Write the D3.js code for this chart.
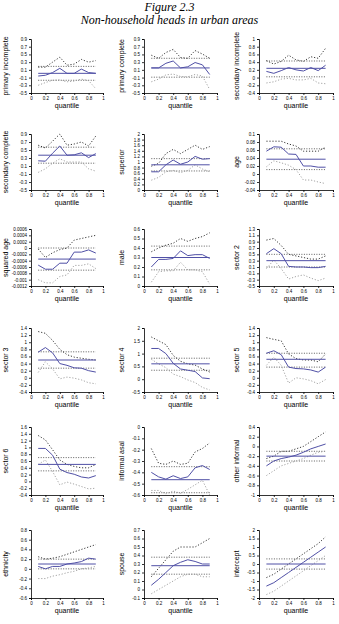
<!DOCTYPE html>
<html><head><meta charset="utf-8">
<script src="https://cdn.jsdelivr.net/npm/d3@7"></script>
<style>
html,body{margin:0;padding:0;background:#fff;}
svg{display:block;}
</style></head>
<body>
<svg id="chart" width="339" height="624"></svg>
<script>
const quantiles = [0.1,0.2,0.3,0.4,0.5,0.6,0.7,0.8,0.9];
const xTicks = [0,0.2,0.4,0.6,0.8,1];
const panelNames = ["primary incomplete","primary complete","secondary incomplete",
  "secondary complete","superior","age",
  "squared age","male","sector 2",
  "sector 3","sector 4","sector 5",
  "sector 6","informal asal","other informal",
  "ethnicity","spouse","intercept"];
const yTicks = [
  [-0.5,-0.3,-0.1,0.1,0.3,0.5,0.7,0.9],
  [-0.5,-0.3,-0.1,0.1,0.3,0.5,0.7,0.9],
  [-0.4,-0.2,0,0.2,0.4,0.6,0.8,1],
  [-0.5,-0.3,-0.1,0.1,0.3,0.5,0.7,0.9],
  [0,0.2,0.4,0.6,0.8,1,1.2,1.4,1.6,1.8,2],
  [-0.04,-0.02,0,0.02,0.04,0.06,0.08,0.1],
  [-0.0012,-0.001,-0.0008,-0.0006,-0.0004,-0.0002,0,0.0002,0.0004,0.0006],
  [0,0.1,0.2,0.3,0.4,0.5,0.6],
  [-0.5,-0.3,-0.1,0.1,0.3,0.5,0.7,0.9,1.1,1.3],
  [-0.4,-0.2,0,0.2,0.4,0.6,0.8,1,1.2,1.4],
  [-0.5,0,0.5,1,1.5,2],
  [-0.4,-0.2,0,0.2,0.4,0.6,0.8,1,1.2,1.4],
  [-0.4,-0.2,0,0.2,0.4,0.6,0.8,1,1.2,1.4,1.6],
  [-0.6,-0.5,-0.4,-0.3,-0.2,-0.1,0],
  [-1,-0.8,-0.6,-0.4,-0.2,0,0.2,0.4],
  [-0.6,-0.4,-0.2,0,0.2,0.4,0.6,0.8],
  [-0.1,0,0.1,0.2,0.3,0.4,0.5,0.6,0.7],
  [-2,-1.5,-1,-0.5,0,0.5,1,1.5,2]
];
const qEst = [
  [-0.06,-0.04,0.03,0.14,0.01,0.01,0.12,0.03,0.01],
  [0.15,0.15,0.27,0.33,0.15,0.18,0.29,0.23,-0.02],
  [0.16,0.11,0.18,0.26,0.2,0.17,0.26,0.18,0.32],
  [0.23,0.22,0.42,0.6,0.37,0.38,0.43,0.31,0.41],
  [0.65,0.65,0.9,1.07,0.92,1.0,1.2,1.1,1.12],
  [0.057,0.068,0.067,0.05,0.049,0.02,0.02,0.017,0.017],
  [-0.00054,-0.00067,-0.00067,-0.00048,-0.00048,-0.00013,-0.00013,-0.00006,-0.00016],
  [0.2,0.28,0.28,0.29,0.37,0.32,0.33,0.33,0.29],
  [0.52,0.68,0.52,0.12,0.1,0.1,0.08,0.08,0.12],
  [0.72,0.85,0.7,0.4,0.35,0.28,0.27,0.2,0.16],
  [1.2,1.2,1.0,0.62,0.4,0.35,0.3,0.05,0.02],
  [0.69,0.76,0.65,0.3,0.26,0.25,0.22,0.16,0.3],
  [0.97,0.97,0.77,0.36,0.26,0.21,0.13,0.1,0.17],
  [-0.4,-0.44,-0.46,-0.43,-0.455,-0.44,-0.36,-0.34,-0.375],
  [-0.4,-0.3,-0.25,-0.22,-0.18,-0.12,-0.05,0.0,0.05],
  [0.05,0.0,0.05,0.05,0.1,0.12,0.15,0.22,0.2],
  [0.05,0.12,0.2,0.28,0.32,0.35,0.33,0.3,0.3],
  [-1.3,-1.1,-0.8,-0.5,-0.2,0.1,0.4,0.7,1.0]
];
const qUpper = [
  [0.17,0.17,0.3,0.43,0.22,0.25,0.37,0.3,0.34],
  [0.48,0.4,0.55,0.63,0.42,0.4,0.6,0.51,0.4],
  [0.44,0.35,0.42,0.58,0.46,0.42,0.54,0.5,0.76],
  [0.62,0.55,0.72,0.9,0.62,0.65,0.7,0.6,0.85],
  [0.85,0.95,1.3,1.45,1.3,1.45,1.6,1.45,1.55],
  [0.082,0.082,0.082,0.075,0.07,0.057,0.057,0.057,0.067],
  [-0.00003,-0.0003,-0.00015,-0.00005,0,0.00025,0.0003,0.00035,0.0004],
  [0.36,0.4,0.43,0.45,0.5,0.47,0.5,0.52,0.56],
  [0.95,1.0,0.78,0.5,0.45,0.4,0.35,0.35,0.45],
  [1.3,1.25,1.05,0.8,0.65,0.58,0.55,0.52,0.5],
  [1.65,1.5,1.35,0.93,0.7,0.6,0.55,0.4,0.28],
  [1.13,1.08,1.04,0.67,0.54,0.5,0.5,0.45,0.67],
  [1.35,1.22,0.93,0.63,0.5,0.44,0.4,0.4,0.5],
  [-0.19,-0.32,-0.33,-0.3,-0.33,-0.32,-0.22,-0.19,-0.14],
  [-0.25,-0.2,-0.1,-0.1,-0.05,0.0,0.1,0.2,0.3],
  [0.25,0.2,0.22,0.25,0.3,0.35,0.4,0.45,0.5],
  [0.15,0.25,0.35,0.45,0.5,0.5,0.5,0.55,0.6],
  [-0.8,-0.6,-0.3,0.0,0.3,0.6,0.9,1.2,1.6]
];
const qLower = [
  [-0.3,-0.23,-0.17,-0.16,-0.21,-0.19,-0.14,-0.18,-0.39],
  [-0.21,-0.14,-0.03,-0.01,-0.07,-0.08,-0.02,-0.06,-0.41],
  [-0.14,-0.11,-0.04,-0.02,-0.06,-0.06,-0.02,-0.14,-0.16],
  [-0.06,0.03,0.17,0.28,0.2,0.2,0.2,0.03,-0.03],
  [0.35,0.45,0.65,0.7,0.62,0.7,0.9,0.75,0.65],
  [0.018,0.033,0.028,0.022,0.011,-0.015,-0.015,-0.02,-0.024],
  [-0.001,-0.0011,-0.0011,-0.0009,-0.00085,-0.00055,-0.00055,-0.0005,-0.00065],
  [0.04,0.15,0.16,0.16,0.25,0.17,0.17,0.15,0.02],
  [0.05,0.32,0.05,-0.28,-0.2,-0.15,-0.25,-0.33,-0.25],
  [0.15,0.45,0.25,-0.03,0.02,-0.01,-0.06,-0.14,-0.17],
  [0.78,0.6,0.45,0.2,0.1,-0.03,-0.13,-0.32,-0.42],
  [0.35,0.58,0.35,-0.15,0.0,-0.03,-0.08,-0.17,-0.05],
  [0.5,0.63,0.29,-0.1,-0.02,-0.08,-0.15,-0.22,-0.2],
  [-0.56,-0.56,-0.59,-0.565,-0.585,-0.55,-0.51,-0.47,-0.6],
  [-0.6,-0.5,-0.4,-0.35,-0.3,-0.25,-0.18,-0.12,-0.1],
  [-0.2,-0.2,-0.15,-0.12,-0.08,-0.05,0.0,0.02,0.05],
  [-0.05,0.0,0.05,0.1,0.15,0.18,0.18,0.15,0.15],
  [-1.8,-1.6,-1.3,-1.0,-0.7,-0.4,-0.1,0.2,0.5]
];
const olsEst = [0.01,0.15,0.24,0.37,0.9,0.037,-0.00035,0.3,0.3,0.5,0.6,0.52,0.5,-0.465,-0.2,0.1,0.28,0.0];
const olsUpper = [0.19,0.4,0.43,0.57,1.12,0.063,0,0.42,0.5,0.73,0.82,0.69,0.7,-0.35,-0.1,0.2,0.38,0.3];
const olsLower = [-0.17,-0.09,0.02,0.17,0.68,0.011,-0.0007,0.17,0.1,0.27,0.35,0.3,0.31,-0.58,-0.3,0.0,0.18,-0.3];

// layout
const colX = [[31,103],[144,217],[259,333]];
const labelX = [8,124,239];
const rowY = [[39,93],[134,190],[229,286],[328,392],[427,495],[530,598]];

const svg = d3.select("#chart");
svg.append("text").attr("x",169.5).attr("y",11).attr("text-anchor","middle")
  .attr("font-family","'Liberation Serif', serif").attr("font-style","italic").attr("font-size",12)
  .attr("fill","#000").text("Figure 2.3");
svg.append("text").attr("x",169.5).attr("y",24).attr("text-anchor","middle")
  .attr("font-family","'Liberation Serif', serif").attr("font-style","italic").attr("font-size",12)
  .attr("fill","#000").text("Non-household heads in urban areas");

const fmt = v => String(+v.toFixed(6));
const blue = "#5050a6";

panelNames.forEach((name,i)=>{
  const c = i%3, r = Math.floor(i/3);
  const [x0,x1] = colX[c], [y0,y1] = rowY[r];
  const ticks = yTicks[i];
  const x = d3.scaleLinear().domain([0,1]).range([x0,x1]);
  const y = d3.scaleLinear().domain([d3.min(ticks),d3.max(ticks)]).range([y1,y0]);
  const g = svg.append("g");
  const clipId = "clip"+i;
  svg.append("clipPath").attr("id",clipId).append("rect")
    .attr("x",x0).attr("y",y0-1).attr("width",x1-x0).attr("height",y1-y0+2);
  const plot = g.append("g").attr("clip-path",`url(#${clipId})`);
  const line = d3.line().x((d,k)=>x(quantiles[k])).y(d=>y(d));
  const hline = v => [quantiles[0],quantiles[quantiles.length-1]].map(q=>[x(q),y(v)]);
  [olsUpper[i],olsLower[i]].forEach(v=>{
    plot.append("path").attr("d",d3.line()(hline(v))).attr("fill","none")
      .attr("stroke","#333").attr("stroke-width",0.8).attr("stroke-dasharray","1,1.5");
  });
  plot.append("path").attr("d",line(qUpper[i])).attr("fill","none")
    .attr("stroke","#222").attr("stroke-width",0.9).attr("stroke-dasharray","1.2,1.8");
  plot.append("path").attr("d",line(qLower[i])).attr("fill","none")
    .attr("stroke","#999").attr("stroke-width",0.9).attr("stroke-dasharray","1.2,1.8");
  plot.append("path").attr("d",d3.line()(hline(olsEst[i]))).attr("fill","none")
    .attr("stroke",blue).attr("stroke-width",1);
  plot.append("path").attr("d",line(qEst[i])).attr("fill","none")
    .attr("stroke",blue).attr("stroke-width",1);

  const ya = g.append("g").attr("transform",`translate(${x0},0)`)
    .call(d3.axisLeft(y).tickValues(ticks).tickFormat(fmt).tickSize(2).tickPadding(2));
  const xa = g.append("g").attr("transform",`translate(0,${y1})`)
    .call(d3.axisBottom(x).tickValues(xTicks).tickFormat(fmt).tickSize(2).tickPadding(2));
  [ya,xa].forEach(a=>{
    a.selectAll("path").attr("stroke","#000").attr("stroke-width",0.8);
    a.selectAll("line").attr("stroke","#000").attr("stroke-width",0.8);
    a.selectAll("text").attr("font-family","Arial, 'Liberation Sans', sans-serif").attr("font-size",4.5).attr("fill","#000");
  });
  g.append("text").attr("x",(x0+x1)/2).attr("y",y1+15).attr("text-anchor","middle")
    .attr("font-family","Arial, 'Liberation Sans', sans-serif").attr("font-size",7).attr("fill","#000").text("quantile");
  g.append("text").attr("transform",`translate(${labelX[c]},${(y0+y1)/2}) rotate(-90)`)
    .attr("text-anchor","middle")
    .attr("font-family","Arial, 'Liberation Sans', sans-serif").attr("font-size",7).attr("fill","#000").text(name);
});
</script>
</body></html>
